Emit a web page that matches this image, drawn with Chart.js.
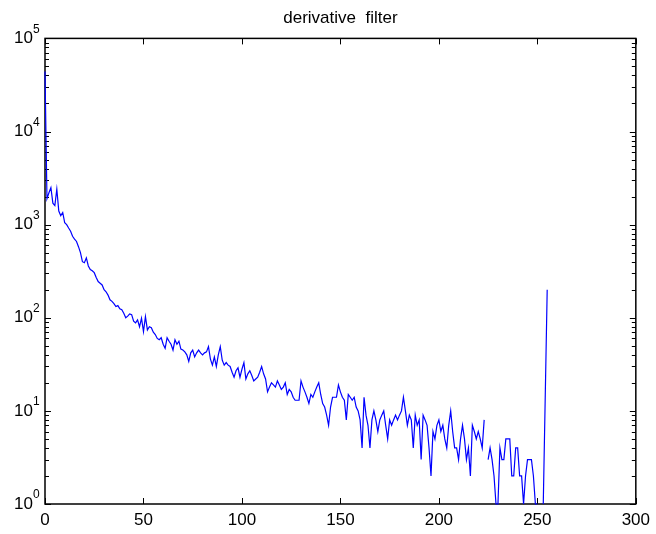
<!DOCTYPE html>
<html>
<head>
<meta charset="utf-8">
<title>derivative filter</title>
<script src="https://cdn.jsdelivr.net/npm/chart.js@4.4.1/dist/chart.umd.min.js"></script>
<style>
  html, body { margin: 0; padding: 0; background: #fff; }
  .graph__container { position: relative; width: 656px; height: 534px; }
</style>
</head>
<body>
<div class="graph__container">
  <canvas id="histChart"></canvas>
</div>
<script>
// histogram of derivative magnitudes, bins 0..255 (null = empty bin, not shown on log axis)
const counts = [
  44000, 1900, 2200, 2500, 1700, 1600, 2400, 1400, 1250, 1350, 1050, 1000, 920, 850, 750, 700,
  660, 580, 500, 400, 390, 440, 360, 330, 320, 305, 270, 245, 235, 225, 200, 190,
  175, 156, 150, 142, 132, 135, 125, 122, 112, 100, 104, 110, 108, 92, 88, 95,
  80, 99, 71, 103, 74, 80, 78, 70, 66, 60, 58, 61, 52, 47, 61, 56,
  52, 45, 58, 52, 56, 46, 45, 43, 40, 34, 42, 45, 38, 42, 45, 42,
  40, 42, 43, 49, 36, 31, 38, 30, 40, 49, 35, 31, 33, 31, 30, 26,
  23, 27, 29, 23, 28, 33, 22, 25, 27, 24, 21, 22, 23, 26, 30, 25,
  22, 16, 18, 20, 19, 18, 21, 19, 17, 18, 20, 15, 17, 16, 14, 13,
  13, 13, 21, 18, 16, 14, 12, 15, 14, 16, 18, 20, 15, 12, 11, 9,
  7, 11, 14, 14, 14, 19, 16, 14, 13, 8, 15, 14, 13, 14, 11, 10,
  8, 4, 14, 9, 7, 4, 8, 10, 8, 6, 8, 9, 10, 7, 5, 8,
  7, 8, 9, 8, 9, 10, 14, 10, 7, 9, 8, 4, 9, 7, 8, 3,
  9, 8, 7, 4, 2, 6, 5, 7, 8, 6, 7, 5, 4, 7, 10, 6,
  4, 4, 3, 5, 7, 5, 3, 4, 2, 7, 6, 5, 6, 5, 4, 8,
  null, 3, 4, 3, 2, 1, 1, 4, 3, 3, 5, 5, 5, 2, 2, 4,
  4, 2, 2, 1, 2, 3, 3, 3, 2, 1, 1, null, null, 1, 14, 200
];
const firstBin = 0;
const xTicks = [0, 50, 100, 150, 200, 250, 300];
const yDecades = [1, 10, 100, 1000, 10000, 100000];
const yExponents = ['0', '1', '2', '3', '4', '5'];
const titleText = 'derivative  filter';

const labelFont = '"Liberation Sans", Arial, Helvetica, sans-serif';

// MATLAB style box: inward ticks on all four sides, log minor ticks, 10^n labels
// drawn before the data so the blue line sits on top of the axes like in matlab
const matlabAxes = {
  id: 'matlabAxes',
  beforeDatasetsDraw(chart) {
    const { ctx, chartArea: a, scales: { x, y } } = chart;
    const seg = (x1, y1, x2, y2) => {
      ctx.beginPath(); ctx.moveTo(x1, y1); ctx.lineTo(x2, y2); ctx.stroke();
    };
    ctx.save();
    ctx.strokeStyle = '#000';
    ctx.lineWidth = 1;

    xTicks.forEach(v => {
      const px = Math.round(x.getPixelForValue(v)) + 0.5;
      seg(px, a.bottom, px, a.bottom - 6);
      seg(px, a.top, px, a.top + 6);
    });

    yDecades.forEach(d => {
      for (let m = 1; m <= 9; m++) {
        const v = d * m;
        if (v > yDecades[yDecades.length - 1]) break;
        const py = Math.round(y.getPixelForValue(v)) + 0.5;
        const len = m === 1 ? 6 : 4;
        seg(a.left, py, a.left + len, py);
        seg(a.right, py, a.right - len, py);
      }
    });

    ctx.lineWidth = 1.5;
    ctx.strokeRect(a.left, a.top, a.right - a.left, a.bottom - a.top);

    ctx.fillStyle = '#000';
    yDecades.forEach((d, k) => {
      const py = y.getPixelForValue(d);
      ctx.font = '17px ' + labelFont;
      ctx.textAlign = 'right';
      ctx.textBaseline = 'middle';
      ctx.fillText('10', a.left - 12, py);
      ctx.font = '12px ' + labelFont;
      ctx.textAlign = 'left';
      ctx.fillText(yExponents[k], a.left - 12, py - 9);
    });
    ctx.restore();
  }
};

const histChart = new Chart(document.getElementById('histChart'), {
  type: 'line',
  data: {
    datasets: [{
      data: counts.map((c, i) => ({ x: firstBin + i, y: c })),
      borderColor: '#0000ff',
      borderWidth: 1.2,
      pointRadius: 0,
      tension: 0,
      spanGaps: false,
      fill: false,
      clip: 1
    }]
  },
  options: {
    responsive: true,
    maintainAspectRatio: false,
    animation: false,
    layout: { padding: { left: 0, right: 19, top: 0, bottom: 0 } },
    plugins: {
      legend: { display: false },
      tooltip: { enabled: false },
      title: {
        display: true,
        text: titleText,
        fullSize: false,
        color: '#000',
        font: { family: labelFont, size: 17, weight: 'normal', lineHeight: 1.2 },
        padding: { top: 8, bottom: 10 }
      }
    },
    scales: {
      x: {
        type: 'linear',
        min: 0,
        max: 300,
        grid: { display: false, drawTicks: false },
        border: { display: false },
        ticks: {
          stepSize: 50,
          color: '#000',
          padding: 6,
          maxRotation: 0,
          font: { family: labelFont, size: 17 }
        },
        afterFit: scale => { scale.height = 30; }
      },
      y: {
        type: 'logarithmic',
        min: 1,
        max: 100000,
        grid: { display: false, drawTicks: false },
        border: { display: false },
        ticks: { display: false },
        afterFit: scale => { scale.width = 45; }
      }
    }
  },
  plugins: [matlabAxes]
});
</script>
</body>
</html>
